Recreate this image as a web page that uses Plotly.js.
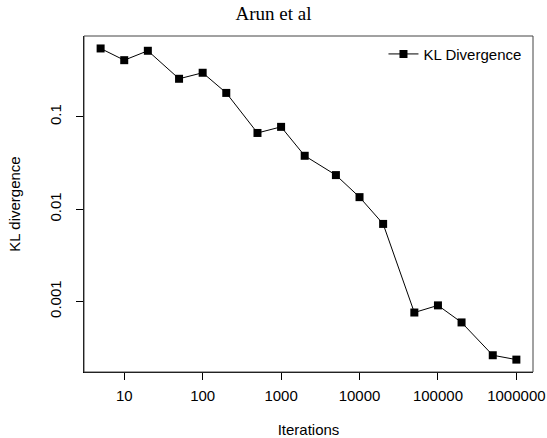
<!DOCTYPE html>
<html>
<head>
<meta charset="utf-8">
<script src="https://cdn.plot.ly/plotly-3.0.1.min.js"></script>
<style>html,body{margin:0;padding:0;background:#fff;}#chart{width:547px;height:438px;}</style>
</head>
<body>
<div id="chart"></div>
<script>
const iterations = [5, 10, 20, 50, 100, 200, 500, 1000, 2000, 5000, 10000, 20000, 50000, 100000, 200000, 500000, 1000000];
const klDivergence = [0.552, 0.412, 0.521, 0.259, 0.301, 0.182, 0.067, 0.078, 0.0379, 0.0234, 0.0135, 0.00692, 0.000758, 0.000906, 0.000592, 0.000261, 0.000234];
const xTickVals = [10, 100, 1000, 10000, 100000, 1000000];
const xTickText = ['10', '100', '1000', '10000', '100000', '1000000'];
const yTickVals = [0.001, 0.01, 0.1];
const yTickText = ['0.001', '0.01', '0.1'];
const seriesName = 'KL Divergence';

const sans = 'Liberation Sans, Arial, sans-serif';

const trace = {
  x: iterations,
  y: klDivergence,
  type: 'scatter',
  mode: 'lines+markers',
  name: seriesName,
  line: {color: '#000', width: 1},
  marker: {symbol: 'square', size: 8, color: '#000'}
};

const layout = {
  width: 547,
  height: 438,
  margin: {l: 84, r: 14, t: 36, b: 66},
  paper_bgcolor: '#fff',
  plot_bgcolor: '#fff',
  showlegend: true,
  title: {
    text: 'Arun et al',
    font: {family: 'Liberation Serif, Times New Roman, serif', size: 19, color: '#000'},
    x: 0.5, xref: 'container', xanchor: 'center',
    y: 0.97, yref: 'container', yanchor: 'middle'
  },
  xaxis: {
    type: 'log',
    range: [0.487, 6.212],
    tickmode: 'array',
    tickvals: xTickVals,
    ticktext: xTickText,
    ticks: 'outside', ticklen: 7, tickwidth: 1, tickcolor: '#000',
    ticklabelstandoff: 3,
    showgrid: false, zeroline: false,
    showline: true, linecolor: '#000', linewidth: 1,
    tickfont: {family: sans, size: 15, color: '#000'},
    title: {text: 'Iterations', font: {family: sans, size: 15, color: '#000'}, standoff: 22}
  },
  yaxis: {
    type: 'log',
    range: [-3.765, -0.123],
    tickmode: 'array',
    tickvals: yTickVals,
    ticktext: yTickText,
    tickangle: -90,
    ticks: 'outside', ticklen: 7, tickwidth: 1, tickcolor: '#000',
    ticklabelstandoff: 9,
    showgrid: false, zeroline: false,
    showline: true, linecolor: '#000', linewidth: 1,
    tickfont: {family: sans, size: 15, color: '#000'},
    title: {text: 'KL divergence', font: {family: sans, size: 15, color: '#000'}, standoff: 22}
  },
  legend: {
    x: 0.667, y: 0.995, xanchor: 'left', yanchor: 'top',
    bgcolor: 'rgba(0,0,0,0)',
    borderwidth: 0,
    font: {family: sans, size: 15, color: '#000'}
  },
  shapes: [{
    type: 'rect', xref: 'paper', yref: 'paper', x0: 0, x1: 1, y0: 0, y1: 1,
    line: {color: '#444', width: 1}
  }]
};

Plotly.newPlot('chart', [trace], layout, {displayModeBar: false, staticPlot: true});
</script>
</body>
</html>
